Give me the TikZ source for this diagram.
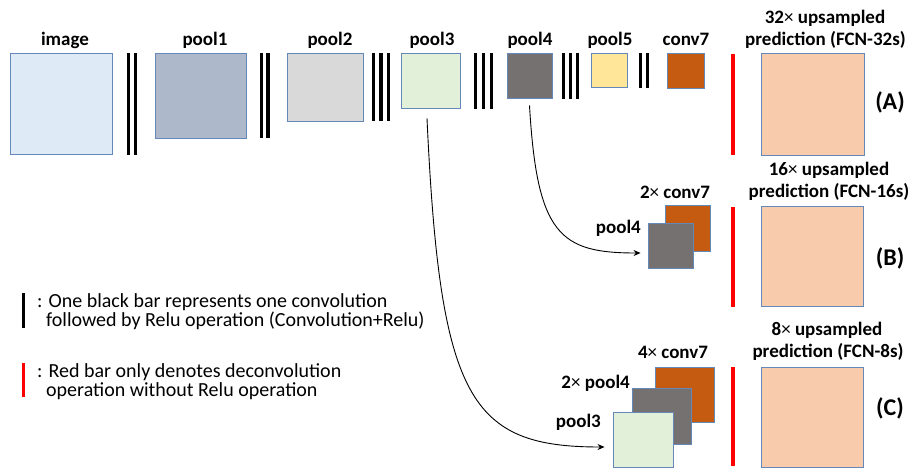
\documentclass[tikz,border=0pt]{standalone}
\usepackage{fontspec}
\setmainfont{Carlito}
\usetikzlibrary{arrows.meta}
\definecolor{boxedge}{RGB}{100,137,185}
\definecolor{cimage}{HTML}{DEEBF7}
\definecolor{cpoolone}{HTML}{ADB9CA}
\definecolor{cpooltwo}{HTML}{D9D9D9}
\definecolor{cpoolthree}{HTML}{E2F0D9}
\definecolor{cpoolfour}{HTML}{767171}
\definecolor{cpoolfive}{HTML}{FFE699}
\definecolor{cconv}{HTML}{C55A11}
\definecolor{cpred}{HTML}{F8CBAD}
\definecolor{cred}{HTML}{FF0000}
\newcommand{\tms}{{\mdseries ×}}
\begin{document}
\begin{tikzpicture}[x=1pt,y=-1pt,
  box/.style={draw=boxedge, line width=0.9pt, inner sep=0pt},
  lab/.style={font=\bfseries\fontsize{19}{21}\selectfont, inner sep=0pt, anchor=base},
  big/.style={font=\bfseries\fontsize{24}{26}\selectfont, inner sep=0pt},
  leg/.style={font=\fontsize{20}{22}\selectfont, inner sep=0pt, anchor=base west},
  bar/.style={line width=3.3pt, black},
  redbar/.style={line width=3.3pt, cred},
  conn/.style={line width=0.9pt, black, -{Stealth[length=7pt,width=6pt]}}]
\useasboundingbox (0,0) rectangle (911,469);

% top row boxes
\node[box, fill=cimage, minimum width=102pt, minimum height=101pt] (image) at (61,103.5) {};
\node[box, fill=cpoolone, minimum width=91pt, minimum height=85pt] (pool1) at (200.5,95.5) {};
\node[box, fill=cpooltwo, minimum width=76pt, minimum height=68pt] (pool2) at (325,87) {};
\node[box, fill=cpoolthree, minimum width=59pt, minimum height=55pt] (pool3) at (430.5,80.5) {};
\node[box, fill=cpoolfour, minimum width=45pt, minimum height=45pt] (pool4) at (529.5,75.5) {};
\node[box, fill=cpoolfive, minimum width=36pt, minimum height=34pt] (pool5) at (609,70) {};
\node[box, fill=cconv, minimum width=37pt, minimum height=35pt] (conv7) at (685.5,70.5) {};

% top labels
\node[lab] (limage) at (65,45) {image};
\node[lab] (lpool1) at (205,45) {pool1};
\node[lab] (lpool2) at (330,45) {pool2};
\node[lab] (lpool3) at (432,45) {pool3};
\node[lab] (lpool4) at (530,45) {pool4};
\node[lab] (lpool5) at (610,45) {pool5};
\node[lab] (lconv7) at (686,45) {conv7};

% conv+relu bars
\draw[bar] (128.5,53) -- (128.5,155);
\draw[bar] (135.5,53) -- (135.5,155);
\draw[bar] (261.5,53) -- (261.5,138);
\draw[bar] (268,53) -- (268,138);
\draw[bar] (373.5,53) -- (373.5,121);
\draw[bar] (381,53) -- (381,121);
\draw[bar] (388.5,53) -- (388.5,121);
\draw[bar] (475.5,53) -- (475.5,109);
\draw[bar] (483.5,53) -- (483.5,109);
\draw[bar] (491.5,53) -- (491.5,109);
\draw[bar] (563.5,53) -- (563.5,99);
\draw[bar] (570.5,53) -- (570.5,99);
\draw[bar] (577.5,53) -- (577.5,99);
\draw[bar] (640.5,53) -- (640.5,88);
\draw[bar] (647.5,53) -- (647.5,88);

% red bars
\draw[redbar] (733,54) -- (733,155);
\draw[redbar] (733,207) -- (733,307);
\draw[redbar] (733,367) -- (733,466);

% predictions
\node[box, fill=cpred, minimum width=103pt, minimum height=102pt] (predA) at (812.5,104) {};
\node[box, fill=cpred, minimum width=102pt, minimum height=100pt] (predB) at (812,256) {};
\node[box, fill=cpred, minimum width=102pt, minimum height=100pt] (predC) at (812,417) {};

\node[lab] (tA1) at (825,23) {32\tms\ upsampled};
\node[lab] (tA2) at (825.5,45) {prediction (FCN-32s)};
\node[lab] (tB1) at (829,175) {16\tms\ upsampled};
\node[lab] (tB2) at (829,197) {prediction (FCN-16s)};
\node[lab] (tC1) at (827,335) {8\tms\ upsampled};
\node[lab] (tC2) at (828,357) {prediction (FCN-8s)};

\node[big] (lA) at (890,102) {(A)};
\node[big] (lB) at (890,258) {(B)};
\node[big] (lC) at (890,408) {(C)};

% stack B
\node[box, fill=cconv, minimum width=45pt, minimum height=46pt] (Bconv7) at (687.5,228) {};
\node[box, fill=cpoolfour, minimum width=45pt, minimum height=45pt] (Bpool4) at (670.5,245.5) {};
\node[lab] (tBconv) at (675,198) {2\tms\ conv7};
\node[lab, anchor=base east] (tBpool) at (641,233) {pool4};

% stack C
\node[box, fill=cconv, minimum width=59pt, minimum height=55pt] (Cconv7) at (684.5,394.5) {};
\node[box, fill=cpoolfour, minimum width=59pt, minimum height=56pt] (Cpool4) at (661.5,416) {};
\node[box, fill=cpoolthree, minimum width=60pt, minimum height=55pt] (Cpool3) at (643,439.5) {};
\node[lab] (tCconv) at (673,358) {4\tms\ conv7};
\node[lab, anchor=base east] (tCpool4) at (630,388) {2\tms\ pool4};
\node[lab, anchor=base east] (tCpool3) at (601,427) {pool3};

% skip connections
\draw[conn] ([yshift=-7pt]pool4.south) .. controls (537,235) and (560,253) .. ([xshift=-7pt,yshift=-7.5pt]Bpool4.west);
\draw[conn] ([xshift=-3.5pt,yshift=-10pt]pool3.south) .. controls (440,400) and (470,447) .. ([xshift=-8pt,yshift=-7.5pt]Cpool3.west);

% legend
\draw[bar, line width=3pt] (23,293) -- (23,328);
\node[leg] (leg1a) at (37,307) {: One black bar represents one convolution};
\node[leg] (leg1b) at (46,326) {followed by Relu operation (Convolution+Relu)};
\draw[redbar, line width=3pt] (23,363) -- (23,397);
\node[leg] (leg2a) at (37,377) {: Red bar only denotes deconvolution};
\node[leg] (leg2b) at (46,396) {operation without Relu operation};
\end{tikzpicture}
\end{document}
